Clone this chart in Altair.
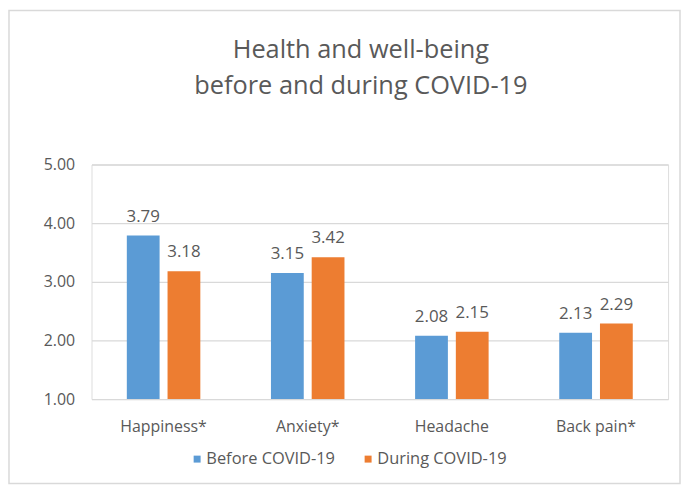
import altair as alt
import pandas as pd

categories = ["Happiness*", "Anxiety*", "Headache", "Back pain*"]
series = ["Before COVID-19", "During COVID-19"]
before = [3.79, 3.15, 2.08, 2.13]
during = [3.18, 3.42, 2.15, 2.29]
colors = ["#5B9BD5", "#ED7D31"]
y_ticks = [1, 2, 3, 4, 5]
title_lines = ["Health and well-being", "before and during COVID-19"]

rows = []
for i, c in enumerate(categories):
    rows.append({"category": c, "period": series[0], "value": before[i]})
    rows.append({"category": c, "period": series[1], "value": during[i]})
df = pd.DataFrame(rows)

FONT = "Open Sans"
GRAY = "#595959"
LINE = "#D9D9D9"

x = alt.X("category:N", sort=categories, title=None,
          scale=alt.Scale(paddingInner=0.49, paddingOuter=0.245),
          axis=alt.Axis(labelAngle=0, domain=False, ticks=False, grid=False,
                        labelFontSize=16, labelColor=GRAY, labelFont=FONT,
                        labelPadding=20))
xo = alt.XOffset("period:N", sort=series,
                 scale=alt.Scale(paddingInner=0.195, paddingOuter=0))
y = alt.Y("value:Q", title=None,
          scale=alt.Scale(domain=[1, 5], zero=False, nice=False),
          axis=alt.Axis(values=y_ticks, format=".2f", domain=False, ticks=False,
                        grid=True, gridColor=LINE, gridWidth=1.3,
                        labelFontSize=16, labelColor=GRAY, labelFont=FONT,
                        labelPadding=17))

bars = alt.Chart(df).mark_bar().encode(
    x=x, xOffset=xo, y=y, y2=alt.datum(1),
    color=alt.Color("period:N", sort=series,
                    scale=alt.Scale(domain=series, range=colors),
                    legend=alt.Legend(title=None, orient="none", direction="horizontal",
                                      legendX=98, legendY=288, padding=0,
                                      symbolType="square", symbolSize=49,
                                      symbolStrokeWidth=0, labelOffset=1,
                                      columnPadding=24, labelFontSize=16.5,
                                      labelFont=FONT, labelColor=GRAY)),
)

labels = alt.Chart(df).mark_text(baseline="alphabetic", dy=-14, fontSize=17,
                                 font=FONT, color=GRAY).encode(
    x=x, xOffset=xo, y=y, text=alt.Text("value:Q", format=".2f"),
)

one = pd.DataFrame({"a": [0]})

frame = alt.Chart(one).mark_rect(
    fill=None, stroke=LINE, strokeWidth=1.5).encode(
    x=alt.value(-83), x2=alt.value(592), y=alt.value(-155), y2=alt.value(321),
)

title1 = alt.Chart(one).mark_text(
    fontSize=25.5, font=FONT, color=GRAY,
    align="center", baseline="alphabetic").encode(
    x=alt.value(271), y=alt.value(-107), text=alt.value(title_lines[0]),
)
title2 = alt.Chart(one).mark_text(
    fontSize=25.5, font=FONT, color=GRAY,
    align="center", baseline="alphabetic").encode(
    x=alt.value(271), y=alt.value(-71), text=alt.value(title_lines[1]),
)

chart = alt.layer(frame, title1, title2, bars, labels).properties(
    width=580, height=236,
    autosize=alt.AutoSizeParams(type="none"),
    padding={"left": 84, "top": 156, "right": 13, "bottom": 86},
).configure_view(stroke=None).configure(background="white")

chart.save("out.html", embed_options={"renderer": "svg", "actions": False})
